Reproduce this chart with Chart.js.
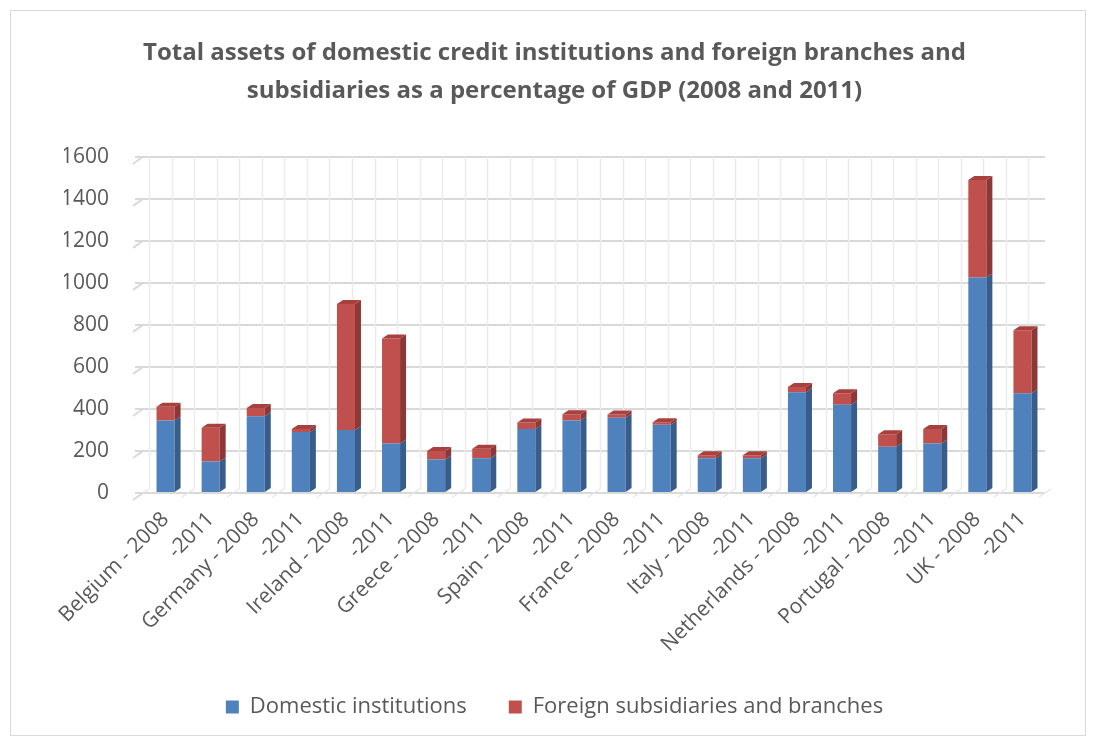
<!DOCTYPE html>
<html>
<head>
<meta charset="utf-8">
<script src="https://cdn.jsdelivr.net/npm/chart.js@4"></script>
<style>
  body { margin: 0; background: #fff; }
  #frame { position: absolute; left: 10px; top: 10px; width: 1074px; height: 724px; border: 1px solid #d9d9d9; }
  canvas { position: absolute; left: 0; top: 0; }
</style>
</head>
<body>
<div id="frame"></div>
<canvas id="bar" width="1093" height="736"></canvas>
<script>
const categories = ["Belgium - 2008", "-2011", "Germany - 2008", "-2011", "Ireland - 2008", "-2011",
    "Greece - 2008", "-2011", "Spain - 2008", "-2011", "France - 2008", "-2011", "Italy - 2008", "-2011",
    "Netherlands - 2008", "-2011", "Portugal - 2008", "-2011", "UK - 2008", "-2011"];
const domestic = [345, 150, 365, 290, 300, 235, 160, 165, 305, 345, 358, 325, 165, 165, 480, 420, 220, 235, 1025, 475];
const foreign = [65, 160, 40, 15, 600, 500, 40, 45, 30, 30, 15, 12, 15, 15, 25, 55, 60, 70, 465, 300];
const yTicks = [0, 200, 400, 600, 800, 1000, 1200, 1400, 1600];

const textColor = "#595959";
const fontName = "'Open Sans', sans-serif";

// back wall: two light vertical lines per category, plus floor diagonals
const wallGrid = {
    id: "wallGrid",
    beforeDatasetsDraw(chart) {
        const ctx = chart.ctx, area = chart.chartArea, y = chart.scales.y;
        const step = (area.right - area.left) / categories.length;
        ctx.save();
        ctx.strokeStyle = "#ececec";
        ctx.lineWidth = 1.5;
        for (let i = 0; i <= categories.length * 2; i++) {
            const px = Math.round(area.left + i * step / 2 + 6) + 0.5;
            if (px > area.right + 6) break;
            ctx.beginPath();
            ctx.moveTo(px, area.top);
            ctx.lineTo(px, area.bottom - 4);
            ctx.stroke();
        }
        ctx.strokeStyle = "#e6e6e6";
        for (let i = 0; i <= categories.length; i++) {
            const px = area.left + i * step;
            ctx.beginPath();
            ctx.moveTo(px - 6, area.bottom + 4);
            ctx.lineTo(px + 6, area.bottom - 4);
            ctx.stroke();
        }
        // side wall stubs at the left end of each gridline
        ctx.strokeStyle = "#d9d9d9";
        ctx.lineWidth = 2;
        yTicks.forEach(v => {
            const py = y.getPixelForValue(v);
            ctx.beginPath();
            ctx.moveTo(area.left - 10, py + 7);
            ctx.lineTo(area.left, py);
            ctx.stroke();
        });
        ctx.restore();
    }
};

// side and top faces so the bars look like blocks
const depth = {
    id: "depth",
    afterDatasetsDraw(chart) {
        const ctx = chart.ctx, d = 6, dy = 4;
        const sides = ["#385d8a", "#8c3836"];
        const tops = ["#5a8ac6", "#a8403d"];
        const last = chart.data.datasets.length - 1;
        ctx.save();
        chart.data.datasets.forEach((ds, i) => {
            chart.getDatasetMeta(i).data.forEach((bar, j) => {
                const r = bar.x + bar.width / 2, l = bar.x - bar.width / 2;
                ctx.fillStyle = sides[i];
                ctx.beginPath();
                ctx.moveTo(r, bar.y);
                ctx.lineTo(r + d, bar.y - dy);
                ctx.lineTo(r + d, bar.base - dy);
                ctx.lineTo(r, bar.base);
                ctx.closePath();
                ctx.fill();
                // only the highest segment shows its top
                if (i === last || !chart.data.datasets[i + 1].data[j]) {
                    ctx.fillStyle = tops[i];
                    ctx.beginPath();
                    ctx.moveTo(l, bar.y);
                    ctx.lineTo(l + d, bar.y - dy);
                    ctx.lineTo(r + d, bar.y - dy);
                    ctx.lineTo(r, bar.y);
                    ctx.closePath();
                    ctx.fill();
                }
            });
        });
        ctx.restore();
    }
};

new Chart(document.getElementById("bar"), {
    type: "bar",
    data: {
        labels: categories,
        datasets: [
            { label: "Domestic institutions", data: domestic, backgroundColor: "#4f81bd", barPercentage: 0.4, categoryPercentage: 1 },
            { label: "Foreign subsidiaries and branches", data: foreign, backgroundColor: "#c0504d", barPercentage: 0.4, categoryPercentage: 1 }
        ]
    },
    options: {
        responsive: false,
        animation: false,
        layout: { padding: { left: 64, right: 48, top: 12, bottom: 8 } },
        plugins: {
            title: {
                display: true,
                text: ["Total assets of domestic credit institutions and foreign branches and",
                       "subsidiaries as a percentage of GDP (2008 and 2011)"],
                color: textColor,
                font: { family: fontName, size: 24, weight: "bold", lineHeight: 1.6 },
                padding: { top: 22, bottom: 46 }
            },
            legend: {
                position: "bottom",
                labels: {
                    color: textColor,
                    font: { family: fontName, size: 22 },
                    boxWidth: 13, boxHeight: 13, padding: 42
                }
            },
            tooltip: { enabled: false }
        },
        scales: {
            x: {
                stacked: true,
                grid: { display: false },
                border: { display: false },
                afterFit: axis => { axis.height = 161; },
                ticks: { color: textColor, font: { family: fontName, size: 21 }, minRotation: 45, maxRotation: 45, padding: 6 }
            },
            y: {
                stacked: true,
                min: 0, max: 1600,
                afterBuildTicks: axis => { axis.ticks = yTicks.map(v => ({ value: v })); },
                afterFit: axis => { axis.width = 79; },
                grid: { color: "#d9d9d9", lineWidth: 2 },
                border: { display: false },
                ticks: { color: textColor, font: { family: fontName, size: 21 }, padding: 26, callback: v => String(v) }
            }
        }
    },
    plugins: [wallGrid, depth]
});
</script>
</body>
</html>
